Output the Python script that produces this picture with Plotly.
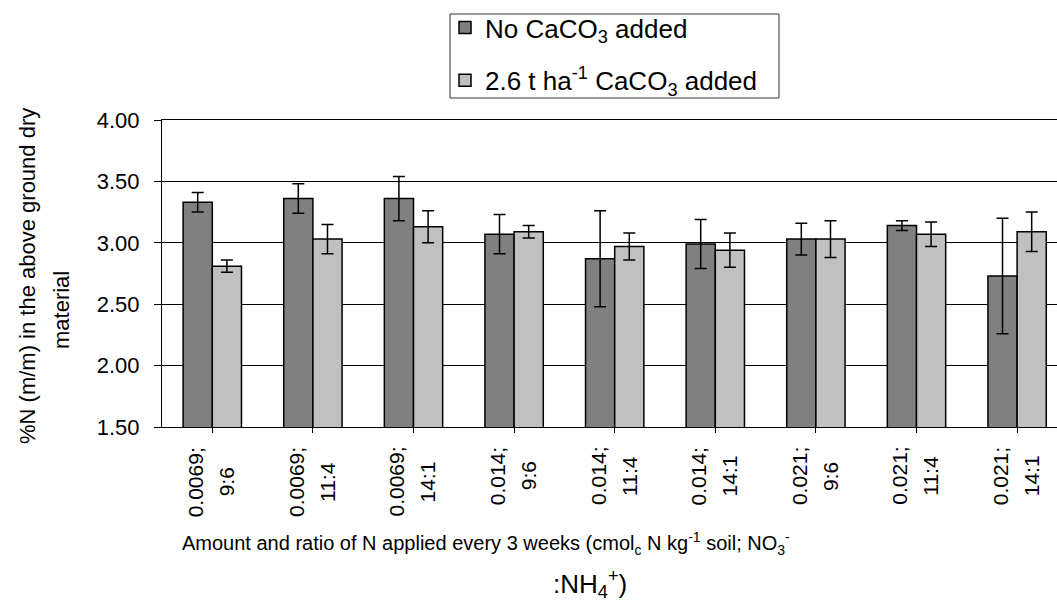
import plotly.graph_objects as go

amounts = ["0.0069;", "0.0069;", "0.0069;", "0.014;", "0.014;", "0.014;", "0.021;", "0.021;", "0.021;"]
ratios = ["9:6", "11:4", "14:1", "9:6", "11:4", "14:1", "9:6", "11:4", "14:1"]
no_caco3 = [3.33, 3.36, 3.36, 3.07, 2.87, 2.99, 3.03, 3.14, 2.73]
no_caco3_err = [0.08, 0.12, 0.18, 0.16, 0.39, 0.20, 0.13, 0.04, 0.47]
caco3 = [2.81, 3.03, 3.13, 3.09, 2.97, 2.94, 3.03, 3.07, 3.09]
caco3_err = [0.05, 0.12, 0.13, 0.05, 0.11, 0.14, 0.15, 0.10, 0.16]
series_names = ["No CaCO<sub>3</sub> added", "2.6 t ha<sup>-1</sup> CaCO<sub>3</sub> added"]
y_ticks = [1.5, 2.0, 2.5, 3.0, 3.5, 4.0]

FONT = "Liberation Sans, Arial, sans-serif"

xs = list(range(len(amounts)))
fig = go.Figure()
fig.add_trace(go.Bar(
    x=xs, y=no_caco3, name=series_names[0], legendgroup="a",
    marker=dict(color="#808080", line=dict(color="black", width=1.5)),
    error_y=dict(type="data", array=no_caco3_err, color="black", thickness=1.5, width=6),
))
fig.add_trace(go.Bar(
    x=xs, y=caco3, name=series_names[1], legendgroup="b",
    marker=dict(color="#C0C0C0", line=dict(color="black", width=1.5)),
    error_y=dict(type="data", array=caco3_err, color="black", thickness=1.5, width=6),
))

L, R, T, B = 162, 0, 120, 174
W, H = 1057, 601
pw = W - L - R
ph = H - T - B
def px(x):
    return (x - L) / pw
def py(y):
    return (H - B - y) / ph

# approximate Arial/Liberation Sans advance widths (em) for the tick label characters
CW = {c: 0.556 for c in "0123456789"}
CW.update({".": 0.278, ";": 0.278, ":": 0.278})
TICK_SIZE = 21
def text_len(s):
    return sum(CW.get(c, 0.556) for c in s) * TICK_SIZE

annotations = [
    dict(text="Amount and ratio of N applied every 3 weeks (cmol<sub>c</sub> N kg<sup>-1</sup> soil; NO<sub>3</sub><sup>-</sup>",
         x=px(486), y=py(543), xref="paper", yref="paper", showarrow=False,
         xanchor="center", yanchor="middle", font=dict(size=20, family=FONT)),
    dict(text=":NH<sub>4</sub><sup>+</sup>)",
         x=px(590), y=py(584), xref="paper", yref="paper", showarrow=False,
         xanchor="center", yanchor="middle", font=dict(size=26, family=FONT)),
    dict(text="%N (m/m) in the above ground dry",
         x=px(27), y=py(276), xref="paper", yref="paper", showarrow=False,
         xanchor="center", yanchor="middle", textangle=-90, font=dict(size=22, family=FONT)),
    dict(text="material",
         x=px(61), y=py(310), xref="paper", yref="paper", showarrow=False,
         xanchor="center", yanchor="middle", textangle=-90, font=dict(size=22, family=FONT)),
]
# category tick labels, placed on the x axis scale (two rotated lines each)
label_top = 447
for xi, a, r in zip(xs, amounts, ratios):
    mid = label_top + text_len(a) / 2
    annotations.append(dict(
        text=a, x=xi, xref="x", y=py(mid), yref="paper", showarrow=False,
        xanchor="center", yanchor="middle", textangle=-90,
        font=dict(size=TICK_SIZE, family=FONT), xshift=-17,
    ))
    annotations.append(dict(
        text=r, x=xi, xref="x", y=py(mid), yref="paper", showarrow=False,
        xanchor="center", yanchor="middle", textangle=-90,
        font=dict(size=TICK_SIZE, family=FONT), xshift=14,
    ))

fig.update_layout(
    width=W, height=H,
    margin=dict(l=L, r=R, t=T, b=B),
    paper_bgcolor="white", plot_bgcolor="white",
    barmode="group", bargap=0.42, bargroupgap=0,
    font=dict(family=FONT, color="black", size=19),
    showlegend=True,
    legend=dict(
        x=px(445), y=py(4), xanchor="left", yanchor="top",
        borderwidth=0, bgcolor="rgba(0,0,0,0)",
        font=dict(size=26, family=FONT), traceorder="grouped", tracegroupgap=16,
    ),
    shapes=[dict(type="rect", xref="paper", yref="paper",
                 x0=px(450), x1=px(779), y0=py(98), y1=py(14),
                 line=dict(color="#333333", width=1), layer="below")],
    xaxis=dict(
        range=[-0.5, -0.5 + pw / 100.6],
        tickmode="array", tickvals=xs, showticklabels=False,
        tickson="boundaries", ticks="outside", ticklen=5,
        tickcolor="black", showline=True, linecolor="black", linewidth=1,
        mirror=True, showgrid=False, zeroline=False,
    ),
    yaxis=dict(
        range=[1.5, 4.0], tickmode="array", tickvals=y_ticks,
        tickformat=".2f", ticks="outside", ticklen=7, tickcolor="black",
        showline=True, linecolor="black", linewidth=1,
        showgrid=True, gridcolor="black", gridwidth=1, zeroline=False,
        tickfont=dict(size=22, family=FONT), ticklabelstandoff=10,
    ),
    annotations=annotations,
)

fig.write_html("out.html")
